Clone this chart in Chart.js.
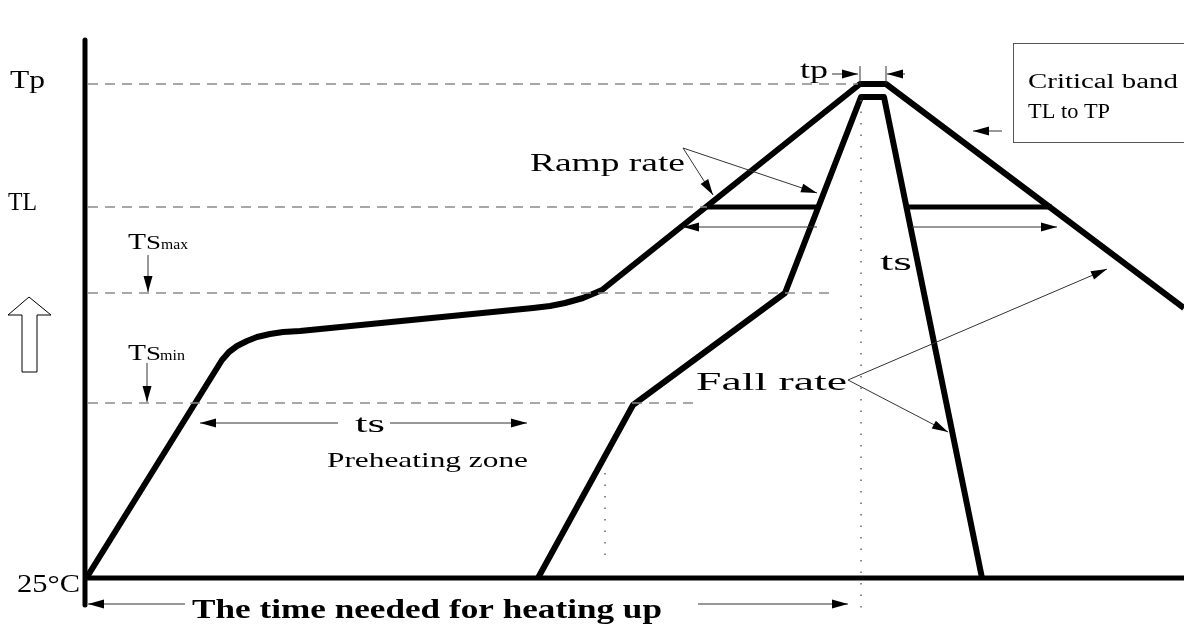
<!DOCTYPE html>
<html>
<head>
<meta charset="utf-8">
<script src="https://cdn.jsdelivr.net/npm/chart.js@4.4.0/dist/chart.umd.min.js"></script>
<style>
  html, body { margin: 0; padding: 0; background: #fff; }
  #wrap { width: 1184px; height: 626px; }
</style>
</head>
<body>
<div id="wrap"><canvas id="profile"></canvas></div>
<script>
// reflow profile, drawing units: time along x, temperature along y
const outerX = [2, 137, 144, 152, 162, 172, 185, 198, 215, 448, 465, 480, 498, 510, 517, 775, 801, 1099];
const outerY = [1, 218, 226, 232, 237, 241, 244, 246, 247, 270, 272, 275, 280, 285, 288, 494, 494, 270];
const innerX = [453, 548, 700, 776, 799, 897];
const innerY = [0, 173, 285, 481, 481, 0];

// reference temperature levels: Tp, TL, TSmax, TSmin
const levelNames = ['Tp', 'TL', 'TSmax', 'TSmin'];
const levelY = [494, 371, 285, 175];
const levelEnd = [773, 622, 748, 615];

// time above liquidus bars (TL)
const tlBarLeft = [622, 732];
const tlBarRight = [823, 967];

// dotted time markers
const markX = [776, 520];
const markTop = [478, 105];
const markBottom = [-32, 13];

const pts = (xs, ys) => xs.map((x, i) => ({x: x, y: ys[i]}));

const datasets = [];
// axes
datasets.push({data: [{x: 0, y: 538}, {x: 0, y: -27}], borderColor: '#000', borderWidth: 5, borderCapStyle: 'round'});
datasets.push({data: [{x: 0, y: 0}, {x: 1099, y: 0}], borderColor: '#000', borderWidth: 5});
levelY.forEach((y, i) => {
  datasets.push({data: [{x: 3, y: y}, {x: levelEnd[i], y: y}], borderColor: '#8a8a8a', borderWidth: 1.3, borderDash: [10, 7]});
});
markX.forEach((x, i) => {
  datasets.push({data: [{x: x, y: markTop[i]}, {x: x, y: markBottom[i]}], borderColor: '#666', borderWidth: 1.5, borderDash: [1.5, 10]});
});
datasets.push({data: pts(outerX, outerY), borderColor: '#000', borderWidth: 6, borderJoinStyle: 'round'});
datasets.push({data: pts(innerX, innerY), borderColor: '#000', borderWidth: 6, borderJoinStyle: 'round'});
datasets.push({data: [{x: tlBarLeft[0], y: levelY[1]}, {x: tlBarLeft[1], y: levelY[1]}], borderColor: '#000', borderWidth: 5});
datasets.push({data: [{x: tlBarRight[0], y: levelY[1]}, {x: tlBarRight[1], y: levelY[1]}], borderColor: '#000', borderWidth: 5});
datasets.forEach(d => { d.showLine = true; d.pointRadius = 0; d.fill = false; d.clip = false; });

// thin arrows [x1, y1, x2, y2], head at the second point
const arrows = [
  [732, 351, 598, 351], [827, 351, 972, 351],
  [253, 155, 115, 155], [305, 155, 442, 155],
  [100, -26, 3, -26], [613, -26, 763, -26],
  [598, 430, 628, 383], [598, 430, 732, 385],
  [763, 198, 1022, 309], [763, 198, 863, 146],
  [63, 323, 63, 286], [62, 215, 62, 176],
  [747, 504, 773, 504], [820, 504, 802, 504],
  [917, 447, 888, 447]
];
const ticks = [[775, 512, 775, 494], [801, 512, 801, 494]];

// labels: text, left x, baseline y, width px, size px, weight
const labels = [
  ['Tp', -75, 490, 35, 26], ['TL', -77, 368, 29, 26], ['25°C', -68, -14, 63, 26],
  ['T', 43, 329, 18, 24], ['S', 61, 329, 15, 18], ['max', 76, 329, 27, 14],
  ['T', 43, 218, 18, 24], ['S', 61, 218, 15, 18], ['min', 75, 218, 25, 14],
  ['Ramp rate', 445, 407, 155, 26], ['Fall rate', 611, 188, 151, 26],
  ['ts', 795, 308, 32, 26], ['ts', 270, 146, 30, 26],
  ['Preheating zone', 242, 111, 201, 22], ['tp', 715, 500, 28, 26],
  ['Critical band', 943, 490, 150, 20], ['TL to TP', 943, 460, 82, 20],
  ['The time needed for heating up', 107, -40, 470, 28, 'bold']
];

const overlay = {
  id: 'overlay',
  afterDatasetsDraw(chart) {
    const ctx = chart.ctx;
    const sx = chart.scales.x, sy = chart.scales.y;
    const X = v => sx.getPixelForValue(v), Y = v => sy.getPixelForValue(v);
    ctx.save();
    ctx.strokeStyle = '#333';
    ctx.fillStyle = '#000';
    ctx.lineWidth = 1;
    arrows.forEach(a => {
      const x1 = X(a[0]), y1 = Y(a[1]), x2 = X(a[2]), y2 = Y(a[3]);
      const ang = Math.atan2(y2 - y1, x2 - x1);
      ctx.beginPath(); ctx.moveTo(x1, y1); ctx.lineTo(x2, y2); ctx.stroke();
      ctx.beginPath();
      ctx.moveTo(x2, y2);
      ctx.lineTo(x2 - 16 * Math.cos(ang) + 4.5 * Math.sin(ang), y2 - 16 * Math.sin(ang) - 4.5 * Math.cos(ang));
      ctx.lineTo(x2 - 16 * Math.cos(ang) - 4.5 * Math.sin(ang), y2 - 16 * Math.sin(ang) + 4.5 * Math.cos(ang));
      ctx.closePath(); ctx.fill();
    });
    ticks.forEach(t => {
      ctx.beginPath(); ctx.moveTo(X(t[0]), Y(t[1])); ctx.lineTo(X(t[2]), Y(t[3])); ctx.stroke();
    });
    // critical band box
    ctx.strokeStyle = '#555';
    ctx.strokeRect(X(928) + 0.5, Y(535) + 0.5, X(1110) - X(928), Y(436) - Y(535));
    // hollow up arrow
    ctx.strokeStyle = '#000';
    ctx.beginPath();
    ctx.moveTo(X(-56), Y(281));
    ctx.lineTo(X(-34), Y(263)); ctx.lineTo(X(-48), Y(263)); ctx.lineTo(X(-48), Y(206));
    ctx.lineTo(X(-63), Y(206)); ctx.lineTo(X(-63), Y(263)); ctx.lineTo(X(-77), Y(263));
    ctx.closePath(); ctx.stroke();
    // labels, stretched to the reference widths
    ctx.fillStyle = '#000';
    ctx.textBaseline = 'alphabetic';
    labels.forEach(l => {
      ctx.font = (l[5] || 'normal') + ' ' + l[4] + 'px "Liberation Serif", serif';
      const w = ctx.measureText(l[0]).width;
      ctx.save();
      ctx.translate(X(l[1]), Y(l[2]));
      ctx.scale(l[3] / w, 1);
      ctx.fillText(l[0], 0, 0);
      ctx.restore();
    });
    ctx.restore();
  }
};

new Chart(document.getElementById('profile'), {
  type: 'scatter',
  data: { datasets: datasets },
  options: {
    responsive: true,
    maintainAspectRatio: false,
    animation: false,
    layout: { padding: 0 },
    plugins: { legend: { display: false }, tooltip: { enabled: false } },
    scales: {
      x: { type: 'linear', min: -85, max: 1099, display: false },
      y: { type: 'linear', min: -48, max: 578, display: false }
    }
  },
  plugins: [overlay]
});
</script>
</body>
</html>
